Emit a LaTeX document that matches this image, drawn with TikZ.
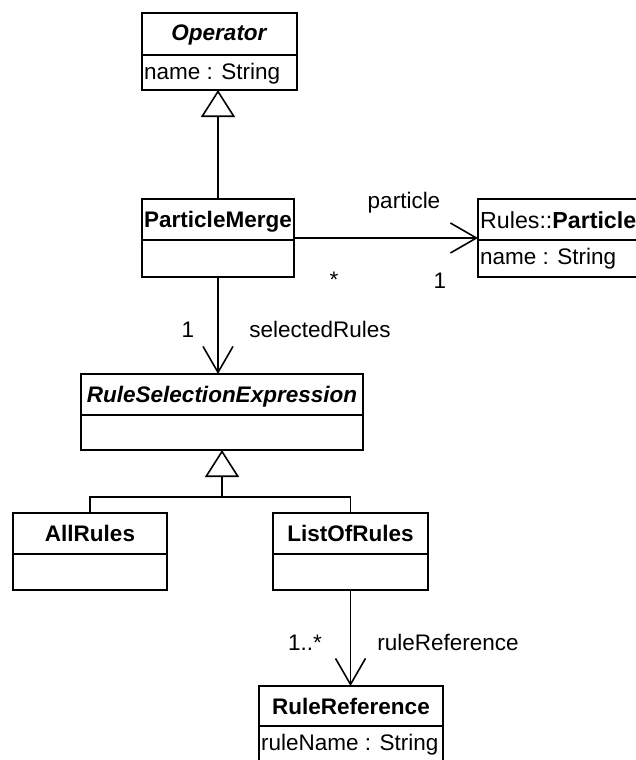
\documentclass[tikz,border=0pt]{standalone}
\usepackage{fontspec}
\setmainfont{Liberation Sans}
\usetikzlibrary{arrows.meta,fit}

\newcommand\diagfont{\fontsize{22.5}{27}\selectfont}

\tikzset{
  classbox/.style={draw, line width=1.8pt, inner sep=0pt, outer sep=0pt},
  divider/.style={line width=1.8pt},
  classtitle/.style={anchor=base, inner sep=0pt, font=\diagfont},
  attr/.style={anchor=base west, inner sep=0pt, font=\diagfont},
  rolelabel/.style={anchor=base, inner sep=0pt, font=\diagfont},
  gen/.style={line width=1.3pt,
    -{Triangle[open, length=27pt, width=34pt, line width=1.6pt]}},
  assoc/.style={line width=1.3pt,
    -{Straight Barb[length=26pt, width=30pt, line width=1.6pt]}},
}

% name, left, top, right, divider, bottom, title, attribute
\newcommand\umlclass[8]{%
  \node[classbox, fit={(#2,#3) (#4,#6)}] (#1) {};
  \draw[divider] (#2,#5) -- (#4,#5);
  \node[classtitle] (#1-name) at ({(#2+#4)/2},#3+28) {#7};
  \node[attr] (#1-attr) at (#2+2,#5+24) {#8};
}

\begin{document}
\begin{tikzpicture}[x=1pt, y=-1pt]
  \useasboundingbox (0,0) rectangle (636,760);
  \clip (0,0) rectangle (636,760);

  % classes
  \umlclass{op}{142}{13}{297}{55}{90}{\textbf{\textit{Operator}}}{name : String}
  \umlclass{pm}{142}{199}{294}{240}{277}{\textbf{ParticleMerge}}{}
  \umlclass{pt}{478}{199}{700}{240}{277}{}{name : String}
  \node[attr] (pt-title) at (480,228) {\fontsize{23.2}{27}\selectfont Rules::\textbf{Particle}};
  \umlclass{rse}{81}{374}{363}{415}{450}{\textbf{\textit{RuleSelectionExpression}}}{}
  \umlclass{ar}{13}{513}{167}{554}{590}{\textbf{AllRules}}{}
  \umlclass{lr}{273}{513}{428}{554}{590}{\textbf{ListOfRules}}{}
  \umlclass{rr}{259}{686}{443}{726}{800}{\textbf{RuleReference}}{ruleName : String}

  % inheritance
  \draw[gen] (pm.north) -- (pm.north |- op.south);
  \coordinate (hub) at (rse.south |- 0,497);
  \draw[line width=1.3pt] (ar.north) |- (hub) -| (lr.north);
  \draw[gen] (hub) -- (rse.south);

  % associations
  \draw[assoc] (pm.east) -- (pt.west);
  \draw[assoc] (pm.south) -- (pm.south |- rse.north);
  \draw[assoc] (lr.south) -- (lr.south |- rr.north);

  % role names and multiplicities
  \node[rolelabel] (l-particle) at (404,208) {particle};
  \node[rolelabel] (m-pm) at (334,287) {*};
  \node[rolelabel] (m-pt) at (440,288) {1};
  \node[rolelabel] (m-sel) at (188,337) {1};
  \node[rolelabel] (l-sel) at (320,337) {selectedRules};
  \node[rolelabel] (m-ref) at (305,650) {1..*};
  \node[rolelabel] (l-ref) at (448,650) {ruleReference};
\end{tikzpicture}
\end{document}
